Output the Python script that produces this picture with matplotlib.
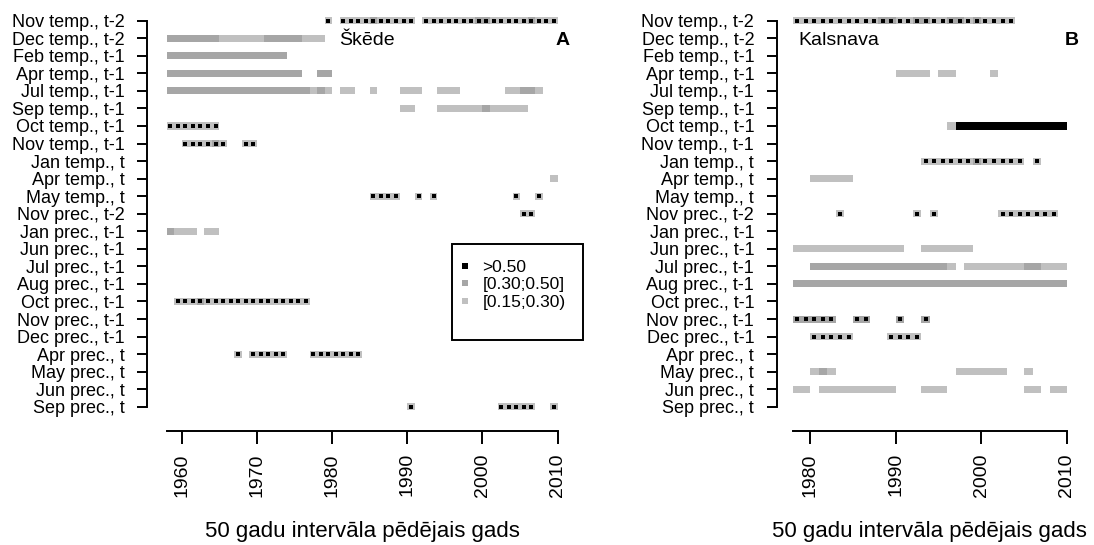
import matplotlib
matplotlib.use("Agg")
import matplotlib.pyplot as plt
from matplotlib.lines import Line2D
from matplotlib.patches import Rectangle

plt.rcParams['font.family'] = ['Liberation Sans', 'DejaVu Sans']

# --- DATA ---
rows = ["Nov temp., t-2", "Dec temp., t-2", "Feb temp., t-1", "Apr temp., t-1",
        "Jul temp., t-1", "Sep temp., t-1", "Oct temp., t-1", "Nov temp., t-1",
        "Jan temp., t", "Apr temp., t", "May temp., t", "Nov prec., t-2",
        "Jan prec., t-1", "Jun prec., t-1", "Jul prec., t-1", "Aug prec., t-1",
        "Oct prec., t-1", "Nov prec., t-1", "Dec prec., t-1", "Apr prec., t",
        "May prec., t", "Jun prec., t", "Sep prec., t"]

level_labels = [">0.50", "[0.30;0.50]", "[0.15;0.30)"]

# (row, first year, last year, level 1..3, sign)  level 1=[0.15;0.30), 2=[0.30;0.50], 3=>0.50
skede = [
    (0, 1979, 1979, 1, -1), (0, 1981, 1984, 1, -1), (0, 1985, 1985, 2, -1), (0, 1986, 1990, 1, -1),
    (0, 1992, 1998, 1, -1), (0, 1999, 2000, 2, -1), (0, 2001, 2005, 1, -1), (0, 2006, 2006, 2, -1),
    (0, 2007, 2009, 1, -1),
    (1, 1958, 1964, 2, 1), (1, 1965, 1970, 1, 1), (1, 1971, 1975, 2, 1), (1, 1976, 1978, 1, 1),
    (2, 1958, 1973, 2, 1),
    (3, 1958, 1975, 2, 1), (3, 1978, 1979, 2, 1),
    (4, 1958, 1976, 2, 1), (4, 1977, 1977, 1, 1), (4, 1978, 1978, 2, 1), (4, 1979, 1979, 1, 1),
    (4, 1981, 1982, 1, 1), (4, 1985, 1985, 1, 1), (4, 1989, 1991, 1, 1), (4, 1994, 1996, 1, 1),
    (4, 2003, 2004, 1, 1), (4, 2005, 2006, 2, 1), (4, 2007, 2007, 1, 1),
    (5, 1989, 1990, 1, 1), (5, 1994, 1999, 1, 1), (5, 2000, 2000, 2, 1), (5, 2001, 2005, 1, 1),
    (6, 1958, 1964, 1, -1),
    (7, 1960, 1963, 1, -1), (7, 1964, 1964, 2, -1), (7, 1965, 1965, 1, -1), (7, 1968, 1969, 1, -1),
    (9, 2009, 2009, 1, 1),
    (10, 1985, 1988, 1, -1), (10, 1991, 1991, 1, -1), (10, 1993, 1993, 1, -1),
    (10, 2004, 2004, 1, -1), (10, 2007, 2007, 1, -1),
    (11, 2005, 2006, 1, -1),
    (12, 1958, 1958, 2, 1), (12, 1959, 1961, 1, 1), (12, 1963, 1964, 1, 1),
    (16, 1959, 1961, 1, -1), (16, 1962, 1962, 2, -1), (16, 1963, 1976, 1, -1),
    (19, 1967, 1967, 1, -1), (19, 1969, 1973, 1, -1), (19, 1977, 1983, 1, -1),
    (22, 1990, 1990, 1, -1), (22, 2002, 2006, 1, -1), (22, 2009, 2009, 1, -1),
]

kalsnava = [
    (0, 1978, 1987, 1, -1), (0, 1988, 1989, 2, -1), (0, 1990, 1991, 1, -1), (0, 1992, 1993, 2, -1),
    (0, 1994, 1995, 1, -1), (0, 1996, 1997, 2, -1), (0, 1998, 1998, 1, -1), (0, 1999, 1999, 2, -1),
    (0, 2000, 2003, 1, -1),
    (3, 1990, 1993, 1, 1), (3, 1995, 1996, 1, 1), (3, 2001, 2001, 1, 1),
    (6, 1996, 1996, 1, 1), (6, 1997, 2009, 3, 1),
    (8, 1993, 1998, 1, -1), (8, 1999, 1999, 2, -1), (8, 2000, 2004, 1, -1), (8, 2006, 2006, 1, -1),
    (9, 1980, 1984, 1, 1),
    (11, 1983, 1983, 1, -1), (11, 1992, 1992, 1, -1), (11, 1994, 1994, 1, -1), (11, 2002, 2008, 1, -1),
    (13, 1978, 1990, 1, 1), (13, 1993, 1998, 1, 1),
    (14, 1980, 1995, 2, 1), (14, 1996, 1996, 1, 1), (14, 1998, 2004, 1, 1), (14, 2005, 2006, 2, 1),
    (14, 2007, 2009, 1, 1),
    (15, 1978, 2009, 2, 1),
    (17, 1978, 1982, 2, -1), (17, 1985, 1986, 2, -1), (17, 1990, 1990, 2, -1), (17, 1993, 1993, 2, -1),
    (18, 1980, 1984, 1, -1), (18, 1989, 1992, 1, -1),
    (20, 1980, 1980, 1, 1), (20, 1981, 1981, 2, 1), (20, 1982, 1982, 1, 1), (20, 1997, 2002, 1, 1),
    (20, 2005, 2005, 1, 1),
    (21, 1978, 1979, 1, 1), (21, 1981, 1989, 1, 1), (21, 1993, 1995, 1, 1), (21, 2005, 2006, 1, 1),
    (21, 2008, 2009, 1, 1),
]

skede_ticks = [1960, 1970, 1980, 1990, 2000, 2010]
kalsnava_ticks = [1980, 1990, 2000, 2010]

colors = {1: "#c0c0c0", 2: "#a6a6a6", 3: "#000000"}

W, H = 1094, 545
fig = plt.figure(figsize=(W / 100, H / 100), dpi=100)


def draw_panel(ax, runs, xlim, xticks, first_year, site, letter, site_x):
    for r, y0, y1, lev, sign in runs:
        ax.barh(r, y1 - y0 + 1, left=y0, height=0.4, color=colors[lev], linewidth=0)
        if sign < 0:
            # negative correlation: black dot in every year cell
            yrs = [y + 0.5 for y in range(y0, y1 + 1)]
            ax.plot(yrs, [r] * len(yrs), 's', color='black', ms=2.2, mew=0)

    ax.set_xlim(*xlim)
    ax.set_ylim(23.38, -0.895)
    ax.set_yticks(range(len(rows)))
    ax.set_yticklabels(rows, fontsize=13)
    ax.set_xticks(xticks)
    ax.set_xticklabels([str(t) for t in xticks], rotation=90, fontsize=14)
    for s in ['top', 'right']:
        ax.spines[s].set_visible(False)
    ax.spines['left'].set_bounds(0, len(rows) - 1)
    ax.spines['bottom'].set_bounds(first_year, 2010)
    for s in ['left', 'bottom']:
        ax.spines[s].set_linewidth(1.4)
    ax.tick_params(axis='y', length=7.2, width=1.4, pad=9)
    ax.tick_params(axis='x', length=9, width=1.4, pad=7)

    ax.set_xlabel("50 gadu intervāla pēdējais gads", fontsize=16)
    ax.xaxis.set_label_coords(0.5, -0.235)
    ax.xaxis.label.set_verticalalignment('center')

    ax.text(site_x, 1.1, site, fontsize=14, ha='left', va='center')
    ax.text(2010.6, 1.1, letter, fontsize=14, fontweight='bold', ha='center', va='center')


axA = fig.add_axes([147 / W, 1 - 431 / H, (577 - 147) / W, 426 / H])
draw_panel(axA, skede, (1955.39, 2012.57), skede_ticks, 1958, "Škēde", "A", 1981.0)

axB = fig.add_axes([776.7 / W, 1 - 431 / H, (1083 - 776.7) / W, 426 / H])
draw_panel(axB, kalsnava, (1976.11, 2011.89), kalsnava_ticks, 1978, "Kalsnava", "B", 1978.6)

# legend in panel A
handles = [Line2D([], [], marker='s', ls='', color=colors[k], ms=4.8, mew=0) for k in (3, 2, 1)]
fig.legend(handles, level_labels, loc='upper left', frameon=False, fontsize=12.5,
           bbox_to_anchor=(458 / W, 1 - 260 / H), handlelength=0.8, handletextpad=0.6,
           labelspacing=0.12, borderpad=0, borderaxespad=0)
fig.patches.append(Rectangle((452 / W, 1 - 340 / H), 131 / W, 96 / H, transform=fig.transFigure,
                             fill=False, edgecolor='black', linewidth=1.4))

fig.savefig("out.png", dpi=100)
